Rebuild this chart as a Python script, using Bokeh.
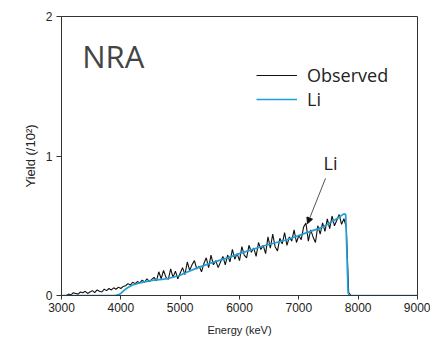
from bokeh.plotting import figure
from bokeh.models import Range1d, FixedTicker, Legend, LegendItem, Label, Arrow, NormalHead
from bokeh.embed import file_html
from bokeh.resources import INLINE

# Observed spectrum (yield in units of 10^2), 40 keV channels from 3080 keV
obs_values = [
    0.00, 0.01, 0.005, 0.02, 0.015, 0.01, 0.025, 0.02, 0.03, 0.015,
    0.025, 0.035, 0.02, 0.04, 0.03, 0.025, 0.045, 0.035, 0.05, 0.04,
    0.055, 0.045, 0.06, 0.05, 0.065, 0.07, 0.085, 0.075, 0.095, 0.085,
    0.10, 0.09, 0.11, 0.095, 0.12, 0.10, 0.115, 0.13, 0.105, 0.17,
    0.12, 0.18, 0.13, 0.115, 0.19, 0.13, 0.175, 0.12, 0.16, 0.20,
    0.15, 0.24, 0.18, 0.22, 0.25, 0.19, 0.21, 0.17, 0.23, 0.27,
    0.20, 0.29, 0.22, 0.25, 0.20, 0.24, 0.28, 0.22, 0.29, 0.24,
    0.33, 0.26, 0.30, 0.25, 0.35, 0.29, 0.27, 0.36, 0.31, 0.34,
    0.28, 0.38, 0.33, 0.36, 0.30, 0.42, 0.34, 0.44, 0.35, 0.32,
    0.41, 0.37, 0.45, 0.36, 0.42, 0.39, 0.47, 0.38, 0.43, 0.40,
    0.49, 0.52, 0.39, 0.47, 0.42, 0.38, 0.50, 0.44, 0.52, 0.46,
    0.55, 0.48, 0.57, 0.50, 0.54, 0.58, 0.51, 0.55, 0.49, 0.02,
]
obs_energy = [3000, 3040] + list(range(3080, 3080 + 40 * len(obs_values), 40)) + [7880, 9000]
obs_yield = [0.0, 0.0] + obs_values + [0.0, 0.0]

# Simulated Li profile
li_energy = [3000, 3900, 3950, 4000, 4050, 4100, 4150, 4200, 4300, 4400, 4500, 4600,
             4700, 4800, 5000, 5100, 5300, 5500, 5800, 6000, 6400, 6800, 7100, 7400,
             7600, 7760, 7790, 7810, 7830, 7850, 9000]
li_yield = [0.0, 0.0, 0.004, 0.015, 0.035, 0.052, 0.065, 0.075, 0.088, 0.098, 0.106, 0.112,
            0.116, 0.122, 0.145, 0.165, 0.20, 0.23, 0.27, 0.30, 0.355, 0.40, 0.445, 0.49,
            0.54, 0.585, 0.58, 0.30, 0.02, 0.0, 0.0]

x_ticks = [3000, 4000, 5000, 6000, 7000, 8000, 9000]
y_ticks = [0, 1, 2]

p = figure(width=430, height=338, output_backend="svg", toolbar_location=None,
           x_range=Range1d(3000, 9000), y_range=Range1d(0, 2),
           min_border_left=61, min_border_right=13, min_border_top=16, min_border_bottom=43)
p.background_fill_color = "white"
p.border_fill_color = "white"
p.grid.visible = False
p.outline_line_color = "#333333"
p.outline_line_width = 1

for ax in (p.xaxis[0], p.yaxis[0]):
    ax.axis_line_color = "#333333"
    ax.major_tick_line_color = "#333333"
    ax.major_tick_in = 0
    ax.minor_tick_line_color = None
    ax.major_label_text_font = "Liberation Sans"
    ax.major_label_text_font_size = "12px"
    ax.major_label_text_color = "#222222"
    ax.axis_label_text_font = "Liberation Sans"
    ax.axis_label_text_font_style = "normal"
    ax.axis_label_text_color = "#222222"

p.xaxis.ticker = FixedTicker(ticks=x_ticks)
p.yaxis.ticker = FixedTicker(ticks=y_ticks)
p.xaxis.major_tick_out = 4
p.yaxis.major_tick_out = 5
p.xaxis.major_label_standoff = 3
p.yaxis.major_label_standoff = 4
p.xaxis.axis_label = "Energy (keV)"
p.xaxis.axis_label_text_font_size = "11px"
p.xaxis.axis_label_standoff = 9
p.yaxis.axis_label = "Yield (/10²)"
p.yaxis.axis_label_text_font_size = "13px"
p.yaxis.axis_label_standoff = 5

r_obs = p.line(obs_energy, obs_yield, line_color="#111111", line_width=1.1)
r_li = p.line(li_energy, li_yield, line_color="#1f9fd5", line_width=1.7)

legend = Legend(items=[LegendItem(label="Observed", renderers=[r_obs]),
                       LegendItem(label="Li", renderers=[r_li])],
                location=(195, 184), orientation="vertical",
                border_line_color=None, background_fill_alpha=0,
                label_text_font="Open Sans", label_text_font_size="18px",
                label_text_color="#222222",
                glyph_width=41, glyph_height=24, label_height=24,
                label_standoff=10, padding=0, margin=0, spacing=0)
p.add_layout(legend)

p.add_layout(Label(x=3350, y=1.72, text="NRA", text_font="Open Sans",
                   text_font_size="31px", text_color="#444444",
                   text_baseline="middle"))
p.add_layout(Label(x=7534, y=0.95, text="Li", text_font="Open Sans",
                   text_font_size="18px", text_color="#222222",
                   text_align="center", text_baseline="middle"))
p.add_layout(Arrow(x_start=7450, y_start=0.84, x_end=7146, y_end=0.515,
                   line_color="#555555", line_width=1,
                   end=NormalHead(size=6, fill_color="#111111", line_color="#111111")))

open("out.html", "w").write(file_html(p, INLINE))
